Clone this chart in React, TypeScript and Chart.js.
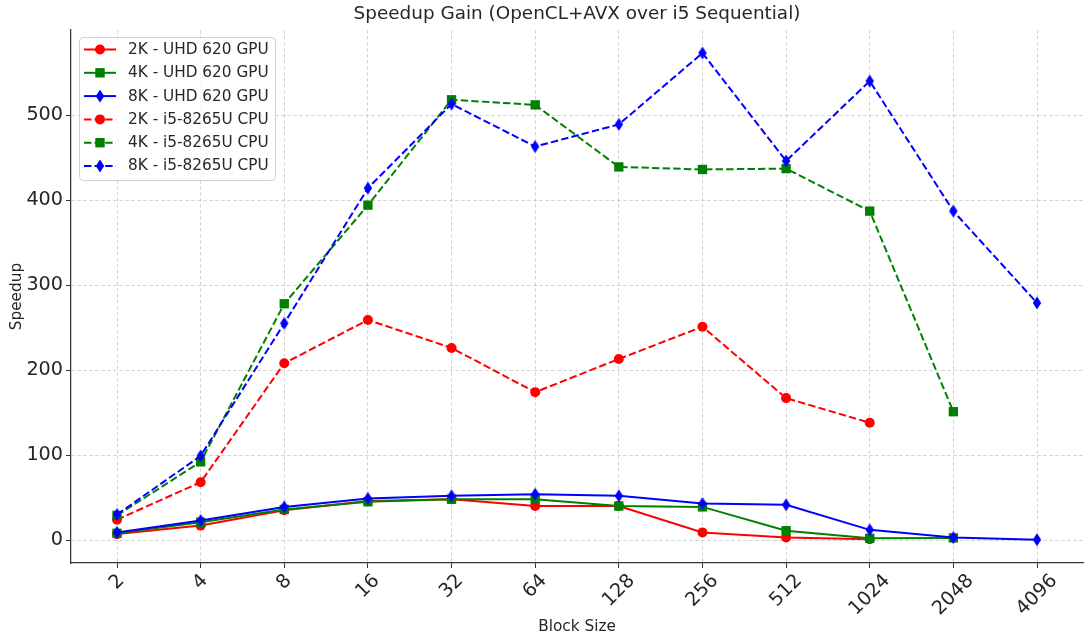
import React, { useEffect, useRef } from 'react';
import { Chart, registerables } from 'chart.js';

Chart.register(...registerables);

const blockSizes = ['2', '4', '8', '16', '32', '64', '128', '256', '512', '1024', '2048', '4096'];
const gpu2K = [7, 17, 35, 46, 48, 40, 40, 9, 3, 1];
const gpu4K = [8, 21, 36, 45, 48, 48, 40, 39, 11, 2, 2.5];
const gpu8K = [9, 23, 39, 49, 52, 54, 52, 43, 41.5, 12, 3, 0.5];
const cpu2K = [24, 68, 208, 259, 226, 174, 213, 251, 167, 138];
const cpu4K = [29, 92, 278, 394, 518, 512, 439, 436, 437, 387, 151];
const cpu8K = [30, 99, 255, 414, 513, 463, 489, 573, 446, 540, 387, 279];
const yTicks = [0, 100, 200, 300, 400, 500];

const FONT = "'DejaVu Sans', sans-serif";
const TEXT = '#262626';
const DASH = [7.4, 3.2];
const TICK_FONT = 19.2;

function makeDiamond(color: string): HTMLCanvasElement {
  const c = document.createElement('canvas');
  c.width = 10;
  c.height = 14;
  const g = c.getContext('2d')!;
  g.fillStyle = color;
  g.beginPath();
  g.moveTo(5, 0.5);
  g.lineTo(9.2, 7);
  g.lineTo(5, 13.5);
  g.lineTo(0.8, 7);
  g.closePath();
  g.fill();
  return c;
}

const legendPlugin = {
  id: 'insideLegend',
  afterDraw(chart: any) {
    const ctx = chart.ctx;
    const x0 = 79, y0 = 37, w = 196, h = 143;
    ctx.save();
    ctx.beginPath();
    (ctx as any).roundRect(x0 + 0.5, y0 + 0.5, w, h, 4);
    ctx.fillStyle = 'rgba(255,255,255,0.8)';
    ctx.fill();
    ctx.strokeStyle = 'rgba(204,204,204,0.9)';
    ctx.lineWidth = 1;
    ctx.stroke();
    chart.data.datasets.forEach((ds: any, i: number) => {
      const cy = 49.5 + i * 23.3;
      ctx.strokeStyle = ds.borderColor;
      ctx.lineWidth = 2;
      ctx.setLineDash(ds.borderDash || []);
      ctx.beginPath();
      ctx.moveTo(84, cy);
      ctx.lineTo(116, cy);
      ctx.stroke();
      ctx.setLineDash([]);
      ctx.fillStyle = ds.borderColor;
      const ps = ds.pointStyle;
      if (ps === 'circle') {
        ctx.beginPath();
        ctx.arc(100, cy, 5, 0, Math.PI * 2);
        ctx.fill();
      } else if (ps === 'rect') {
        ctx.fillRect(95.3, cy - 4.7, 9.4, 9.4);
      } else {
        ctx.drawImage(ps, 100 - ps.width / 2, cy - ps.height / 2);
      }
      ctx.fillStyle = TEXT;
      ctx.font = `15.3px ${FONT}`;
      ctx.textAlign = 'left';
      ctx.textBaseline = 'middle';
      ctx.fillText(ds.label, 128, cy + 0.5);
    });
    ctx.restore();
  },
};

const xLabelPlugin = {
  id: 'rotatedXLabels',
  afterDraw(chart: any) {
    const ctx = chart.ctx;
    const xs = chart.scales.x;
    const top = chart.chartArea.bottom + 8;
    ctx.save();
    ctx.font = `${TICK_FONT}px ${FONT}`;
    ctx.fillStyle = TEXT;
    ctx.textAlign = 'center';
    ctx.textBaseline = 'middle';
    xs.ticks.forEach((t: any) => {
      const label = blockSizes[t.value];
      if (label === undefined) return;
      const px = xs.getPixelForValue(t.value);
      const tw = ctx.measureText(label).width;
      const th = TICK_FONT * 1.0;
      const bh = (tw + th) * Math.SQRT1_2;
      ctx.save();
      ctx.translate(px, top + bh / 2);
      ctx.rotate(-Math.PI / 4);
      ctx.fillText(label, 0, 0);
      ctx.restore();
    });
    ctx.restore();
  },
};

export default function App() {
  const ref = useRef<HTMLCanvasElement | null>(null);

  useEffect(() => {
    if (!ref.current) return;
    const red = '#ff0000', green = '#008000', blue = '#0000ff';
    const toPts = (arr: number[]) => arr.map((v, i) => ({ x: i, y: v }));
    const mk = (label: string, data: number[], color: string, style: any, dashed: boolean, order: number) => ({
      label,
      data: toPts(data),
      borderColor: color,
      backgroundColor: color,
      borderWidth: 2,
      borderDash: dashed ? DASH : [],
      pointStyle: style,
      pointRadius: style === 'rect' ? 6.6 : 5,
      pointBorderWidth: 0,
      pointBackgroundColor: color,
      pointBorderColor: color,
      tension: 0,
      order,
    });
    const diaB1 = makeDiamond(blue);
    const diaB2 = makeDiamond(blue);
    const gridColor = 'rgba(176,176,176,0.7)';
    const chart = new Chart(ref.current, {
      type: 'line',
      data: {
        datasets: [
          mk('2K - UHD 620 GPU', gpu2K, red, 'circle', false, 6),
          mk('4K - UHD 620 GPU', gpu4K, green, 'rect', false, 5),
          mk('8K - UHD 620 GPU', gpu8K, blue, diaB1, false, 4),
          mk('2K - i5-8265U CPU', cpu2K, red, 'circle', true, 3),
          mk('4K - i5-8265U CPU', cpu4K, green, 'rect', true, 2),
          mk('8K - i5-8265U CPU', cpu8K, blue, diaB2, true, 1),
        ] as any,
      },
      options: {
        animation: false,
        responsive: false,
        maintainAspectRatio: false,
        layout: { autoPadding: false, padding: { left: 0, right: 1, top: 0, bottom: 0 } } as any,
        plugins: {
          legend: { display: false },
          tooltip: { enabled: false },
          title: {
            display: true,
            text: 'Speedup Gain (OpenCL+AVX over i5 Sequential)',
            fullSize: false,
            color: TEXT,
            font: { family: FONT, size: 18.4, weight: 'normal' as any, lineHeight: 1.2 },
            padding: { top: 3, bottom: 5 },
          },
        },
        scales: {
          x: {
            type: 'linear',
            min: -0.55,
            max: 11.55,
            afterBuildTicks: (s: any) => {
              s.ticks = blockSizes.map((_, i) => ({ value: i }));
            },
            afterFit: (s: any) => {
              s.height = 79;
            },
            ticks: { display: false },
            grid: {
              color: gridColor,
              lineWidth: 0.8,
              tickLength: 5,
              tickColor: '#333',
              tickWidth: 1,
              drawTicks: true,
            } as any,
            border: { display: true, color: '#333', width: 1.25, dash: [3.5, 2.5] } as any,
            title: {
              display: true,
              text: 'Block Size',
              color: TEXT,
              font: { family: FONT, size: 15.3 },
              padding: { top: 0, bottom: 6 },
            },
          },
          y: {
            type: 'linear',
            min: -27,
            max: 600,
            afterBuildTicks: (s: any) => {
              s.ticks = yTicks.map((v) => ({ value: v }));
            },
            afterFit: (s: any) => {
              s.width = 71;
            },
            ticks: {
              color: TEXT,
              font: { family: FONT, size: TICK_FONT },
              padding: 3,
            },
            grid: {
              color: gridColor,
              lineWidth: 0.8,
              tickLength: 5,
              tickColor: '#333',
              tickWidth: 1,
              drawTicks: true,
            } as any,
            border: { display: true, color: '#333', width: 1.25, dash: [3.5, 2.5] } as any,
            title: {
              display: true,
              text: 'Speedup',
              color: TEXT,
              font: { family: FONT, size: 15.3 },
              padding: { top: 8, bottom: 0 },
            },
          },
        },
      },
      plugins: [legendPlugin, xLabelPlugin],
    });
    return () => chart.destroy();
  }, []);

  return (
    <div style={{ position: 'fixed', left: 0, top: 0, width: 1084, height: 642, background: '#fff' }}>
      <canvas ref={ref} width={1084} height={642} style={{ display: 'block' }} />
    </div>
  );
}
